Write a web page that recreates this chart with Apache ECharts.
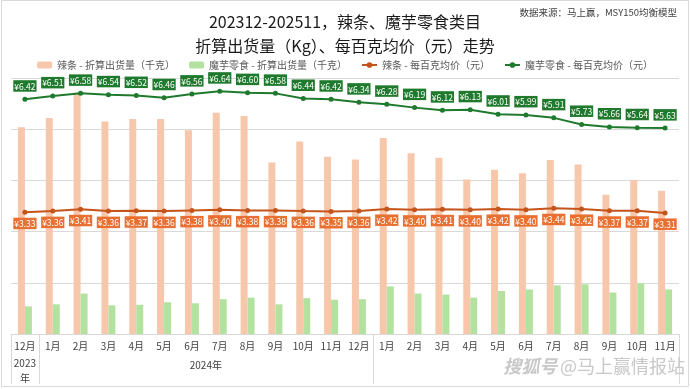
<!DOCTYPE html>
<html><head><meta charset="utf-8">
<script src="https://cdn.jsdelivr.net/npm/echarts@6/dist/echarts.min.js"></script>
<style>html,body{margin:0;padding:0;background:#fff}#c{width:690px;height:389px}</style>
</head><body><div id="c"></div>
<script>
const categories = ['2023-12','2024-01','2024-02','2024-03','2024-04','2024-05','2024-06','2024-07','2024-08','2024-09','2024-10','2024-11','2024-12','2025-01','2025-02','2025-03','2025-04','2025-05','2025-06','2025-07','2025-08','2025-09','2025-10','2025-11'];
const monthLabels = ['12月','1月','2月','3月','4月','5月','6月','7月','8月','9月','10月','11月','12月','1月','2月','3月','4月','5月','6月','7月','8月','9月','10月','11月'];
const yearLabels = ['2023\n年','2024年',''];
const yearStarts = [0, 1, 13];
const yearEnds = [0, 12, 23];
const latiaoVolume = [40.4,42.2,47.1,41.5,42.0,42.0,39.8,43.2,42.6,33.5,37.6,34.6,34.1,38.3,35.3,34.4,30.2,32.1,31.4,34.0,33.1,27.2,30.1,28.0];
const moyuVolume = [5.4,5.8,7.9,5.6,5.7,6.2,6.0,6.8,7.1,5.8,7.0,6.7,6.8,9.3,7.9,7.7,7.1,8.4,8.7,9.5,9.7,8.1,9.9,8.7];
const latiaoPrice = [3.33,3.36,3.41,3.36,3.37,3.36,3.38,3.40,3.38,3.38,3.36,3.35,3.36,3.42,3.40,3.41,3.40,3.42,3.40,3.44,3.42,3.37,3.37,3.31];
const moyuPrice = [6.42,6.51,6.58,6.54,6.52,6.46,6.56,6.64,6.60,6.58,6.44,6.42,6.34,6.28,6.19,6.12,6.13,6.01,5.99,5.91,5.73,5.66,5.64,5.63];
const seriesNames = ['辣条 - 折算出货量（千克）','魔芋零食 - 折算出货量（千克）','辣条 - 每百克均价（元）','魔芋零食 - 每百克均价（元）'];

const FONT = '"Noto Sans CJK SC", "Noto Sans", sans-serif';
const chart = echarts.init(document.getElementById('c'), null, {renderer:'canvas'});
const priceFmt = p => '¥' + p.value.toFixed(2);
chart.setOption({
  animation: false,
  textStyle: {fontFamily: FONT},
  title: [
    {text: '202312-202511，辣条、魔芋零食类目', left: 'center', top: 9, textStyle: {fontFamily: FONT, fontSize: 16, fontWeight: 'normal', color: '#1a1a1a'}},
    {text: '折算出货量（Kg）、每百克均价（元）走势', left: 'center', top: 33, textStyle: {fontFamily: FONT, fontSize: 16, fontWeight: 'normal', color: '#1a1a1a'}},
    {text: '数据来源：马上赢，MSY150均衡模型', right: 8, top: 3, textStyle: {fontFamily: FONT, fontSize: 9.5, fontWeight: 'normal', color: '#404040'}}
  ],
  legend: {
    top: 55, left: 'center', itemWidth: 15, itemHeight: 7, itemGap: 14,
    textStyle: {fontFamily: FONT, fontSize: 10, color: '#595959'},
    data: seriesNames
  },
  grid: {left: 11, right: 11, top: 78, bottom: 55},
  xAxis: {
    type: 'category', data: categories,
    axisTick: {show: false},
    axisLine: {lineStyle: {color: '#d9d9d9'}},
    axisLabel: {interval: 0, margin: 7, fontSize: 10, color: '#404040', fontFamily: FONT, formatter: (v, i) => monthLabels[i]}
  },
  yAxis: [
    {type: 'value', min: 0, max: 50, interval: 10, axisLabel: {show: false}, axisLine: {show: false}, axisTick: {show: false}, splitLine: {lineStyle: {color: '#d9d9d9'}}},
    {type: 'value', min: 0, max: 7, show: false, splitLine: {show: false}}
  ],
  series: [
    {name: seriesNames[0], type: 'bar', data: latiaoVolume, barWidth: 7, barGap: '0%', itemStyle: {color: '#f7c7ab'}},
    {name: seriesNames[1], type: 'bar', data: moyuVolume, barWidth: 7, barGap: '0%', itemStyle: {color: '#b3e2a0'}},
    {name: seriesNames[2], type: 'line', yAxisIndex: 1, data: latiaoPrice, symbol: 'circle', symbolSize: 5, z: 5,
      lineStyle: {color: '#c5541a', width: 2}, itemStyle: {color: '#c5541a'},
      label: {show: true, position: 'bottom', distance: 3, formatter: priceFmt, color: '#fff', fontSize: 8.5, fontFamily: FONT, backgroundColor: '#e87032', padding: [2, 1, 1, 1]}},
    {name: seriesNames[3], type: 'line', yAxisIndex: 1, data: moyuPrice, symbol: 'circle', symbolSize: 5, z: 5,
      lineStyle: {color: '#1f7a2e', width: 2}, itemStyle: {color: '#1f7a2e'},
      label: {show: true, position: 'top', distance: 5, formatter: priceFmt, color: '#fff', fontSize: 8.5, fontFamily: FONT, backgroundColor: '#1f7a2e', padding: [2, 1, 1, 1]}}
  ]
});

// axis group separators and year labels computed from the axis scale
const c0 = chart.convertToPixel({xAxisIndex: 0}, 0);
const c1 = chart.convertToPixel({xAxisIndex: 0}, 1);
const bw = c1 - c0;
const yAxisPix = chart.convertToPixel({yAxisIndex: 0}, 0);
const bounds = [0, 1, 13, 24].map(i => c0 - bw / 2 + i * bw);
const graphics = [];
bounds.forEach(x => graphics.push({type: 'line', shape: {x1: Math.round(x) + 0.5, y1: yAxisPix, x2: Math.round(x) + 0.5, y2: 384}, style: {stroke: '#d9d9d9', lineWidth: 1}, silent: true}));
yearLabels.forEach((t, k) => {
  if (!t) return;
  const xm = (chart.convertToPixel({xAxisIndex: 0}, yearStarts[k]) + chart.convertToPixel({xAxisIndex: 0}, yearEnds[k])) / 2;
  graphics.push({type: 'text', x: xm, y: t.indexOf('\n') >= 0 ? 371 : 365, style: {text: t, align: 'center', verticalAlign: 'middle', fontSize: 10, lineHeight: 15, fill: '#404040', fontFamily: FONT}, silent: true});
});
graphics.push({type: 'rect', shape: {x: 1.5, y: 0.5, width: 687, height: 386}, style: {fill: null, stroke: '#d9d9d9', lineWidth: 1}, silent: true, z: -10});
graphics.push({type: 'text', right: 5, top: 357, style: {
  text: '{a|搜狐号} {b|@马上赢情报站}',
  rich: {
    a: {fontSize: 18, fill: '#c8c8c8', fontStyle: 'italic', fontWeight: 'bold', fontFamily: FONT},
    b: {fontSize: 18, fill: '#c8c8c8', fontFamily: FONT}
  },
  fontFamily: FONT}, silent: true});
chart.setOption({graphic: graphics});
</script></body></html>
